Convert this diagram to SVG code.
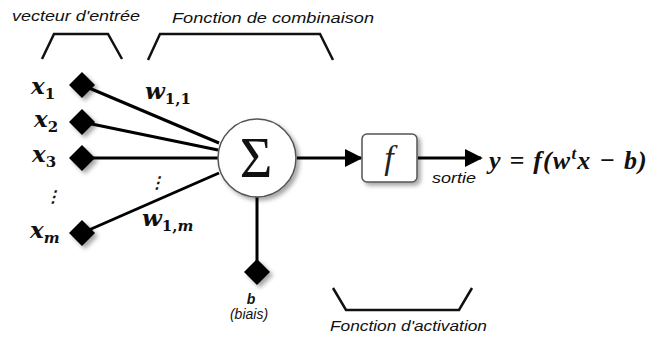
<svg xmlns="http://www.w3.org/2000/svg" width="662" height="338" viewBox="0 0 662 338">
<defs>
<filter id="sh" x="-50%" y="-50%" width="200%" height="200%">
<feDropShadow dx="3" dy="3" stdDeviation="2" flood-color="#000" flood-opacity="0.35"/>
</filter>
<marker id="arr" viewBox="0 0 10 10" refX="9" refY="5" markerWidth="6" markerHeight="6" orient="auto" markerUnits="strokeWidth">
<path d="M0,0 L10,5 L0,10 z" fill="#000"/>
</marker>
<style>
.lbl{font-family:"Liberation Sans",Arial,sans-serif;font-style:italic;font-size:14px;fill:#111}
.math{font-family:"DejaVu Serif","Liberation Serif",serif;font-style:italic;font-weight:bold;fill:#111}
.br{fill:none;stroke:#111;stroke-width:2.5}
.wire{stroke:#000;stroke-width:3;fill:none}
.dia{fill:#000;filter:url(#sh)}
</style>
</defs>
<rect width="662" height="338" fill="#fff"/>
<g id="labels">
<text class="lbl" x="12" y="21" textLength="128" lengthAdjust="spacingAndGlyphs">vecteur d'entrée</text>
<text class="lbl" x="172" y="23" textLength="202" lengthAdjust="spacingAndGlyphs">Fonction de combinaison</text>
<polyline class="br" points="42,59 54,34 108,34 122,59"/>
<polyline class="br" points="148,60 160,34 320,34 333,60"/>
<polyline class="br" points="333,288 346,310 459,310 472,288"/>
<text class="lbl" x="330" y="331" textLength="157" lengthAdjust="spacingAndGlyphs">Fonction d'activation</text>
<text class="lbl" x="432" y="183" font-size="13" textLength="44" lengthAdjust="spacingAndGlyphs">sortie</text>
</g>
<g id="connectors">
<line class="wire" x1="82" y1="85" x2="219" y2="143"/>
<line class="wire" x1="82" y1="122" x2="218" y2="150"/>
<line class="wire" x1="82" y1="158" x2="218" y2="158" stroke-width="2.5"/>
<line class="wire" x1="82" y1="233" x2="219" y2="173"/>
<line class="wire" x1="257" y1="196" x2="257" y2="268"/>
<line class="wire" x1="297" y1="158" x2="361" y2="158" marker-end="url(#arr)"/>
<line class="wire" x1="418" y1="158" x2="481" y2="158" marker-end="url(#arr)"/>
</g>
<g id="x1"><path class="dia" d="M82,72 L95,85 L82,98 L69,85 z"/><text class="math" x="31" y="94" font-size="23">x<tspan font-size="15" dy="5" font-style="normal">1</tspan></text></g>
<g id="x2"><path class="dia" d="M82,109 L95,122 L82,135 L69,122 z"/><text class="math" x="34" y="127" font-size="23">x<tspan font-size="15" dy="5" font-style="normal">2</tspan></text></g>
<g id="x3"><path class="dia" d="M82,145 L95,158 L82,171 L69,158 z"/><text class="math" x="32" y="162" font-size="23">x<tspan font-size="15" dy="5" font-style="normal">3</tspan></text></g>
<g id="xdots"><text class="math" x="45" y="202" font-size="16" font-style="normal">⋮</text></g>
<g id="xm"><path class="dia" d="M82,220 L95,233 L82,246 L69,233 z"/><text class="math" x="30" y="238" font-size="23">x<tspan font-size="15" dy="5">m</tspan></text></g>
<g id="weights">
<text class="math" x="145" y="99" font-size="23">w<tspan font-size="15" dy="5" font-style="normal">1,1</tspan></text>
<text class="math" x="149" y="188" font-size="16" font-style="normal">⋮</text>
<text class="math" x="142" y="226" font-size="23">w<tspan font-size="15" dy="5" font-style="normal">1,</tspan><tspan font-size="15">m</tspan></text>
</g>
<g id="sum">
<circle cx="257" cy="158" r="39" fill="#fff" stroke="#555" stroke-width="1.5" filter="url(#sh)"/>
<text x="256" y="177" font-family="'Liberation Serif','DejaVu Serif',serif" font-size="56" text-anchor="middle" fill="#111">Σ</text>
</g>
<g id="act">
<rect x="362" y="134" width="55" height="48" rx="5" fill="#fff" stroke="#555" stroke-width="1.5" filter="url(#sh)"/>
<text x="389" y="169" font-family="'Liberation Serif','DejaVu Serif',serif" font-style="italic" font-size="34" text-anchor="middle" fill="#222">f</text>
</g>
<g id="bias">
<path class="dia" d="M257,259 L270,272 L257,285 L244,272 z"/>
<text class="lbl" x="251" y="304" font-weight="bold" text-anchor="middle" font-size="12">b</text>
<text class="lbl" x="249" y="319" text-anchor="middle" font-size="13">(biais)</text>
</g>
<g id="output">
<text x="489" y="169" font-family="'Liberation Serif','DejaVu Serif',serif" font-style="italic" font-weight="bold" font-size="26" letter-spacing="1.2" fill="#111">y = f(w<tspan font-size="17" dy="-10">t</tspan><tspan dy="10">x − b)</tspan></text>
</g>
</svg>
